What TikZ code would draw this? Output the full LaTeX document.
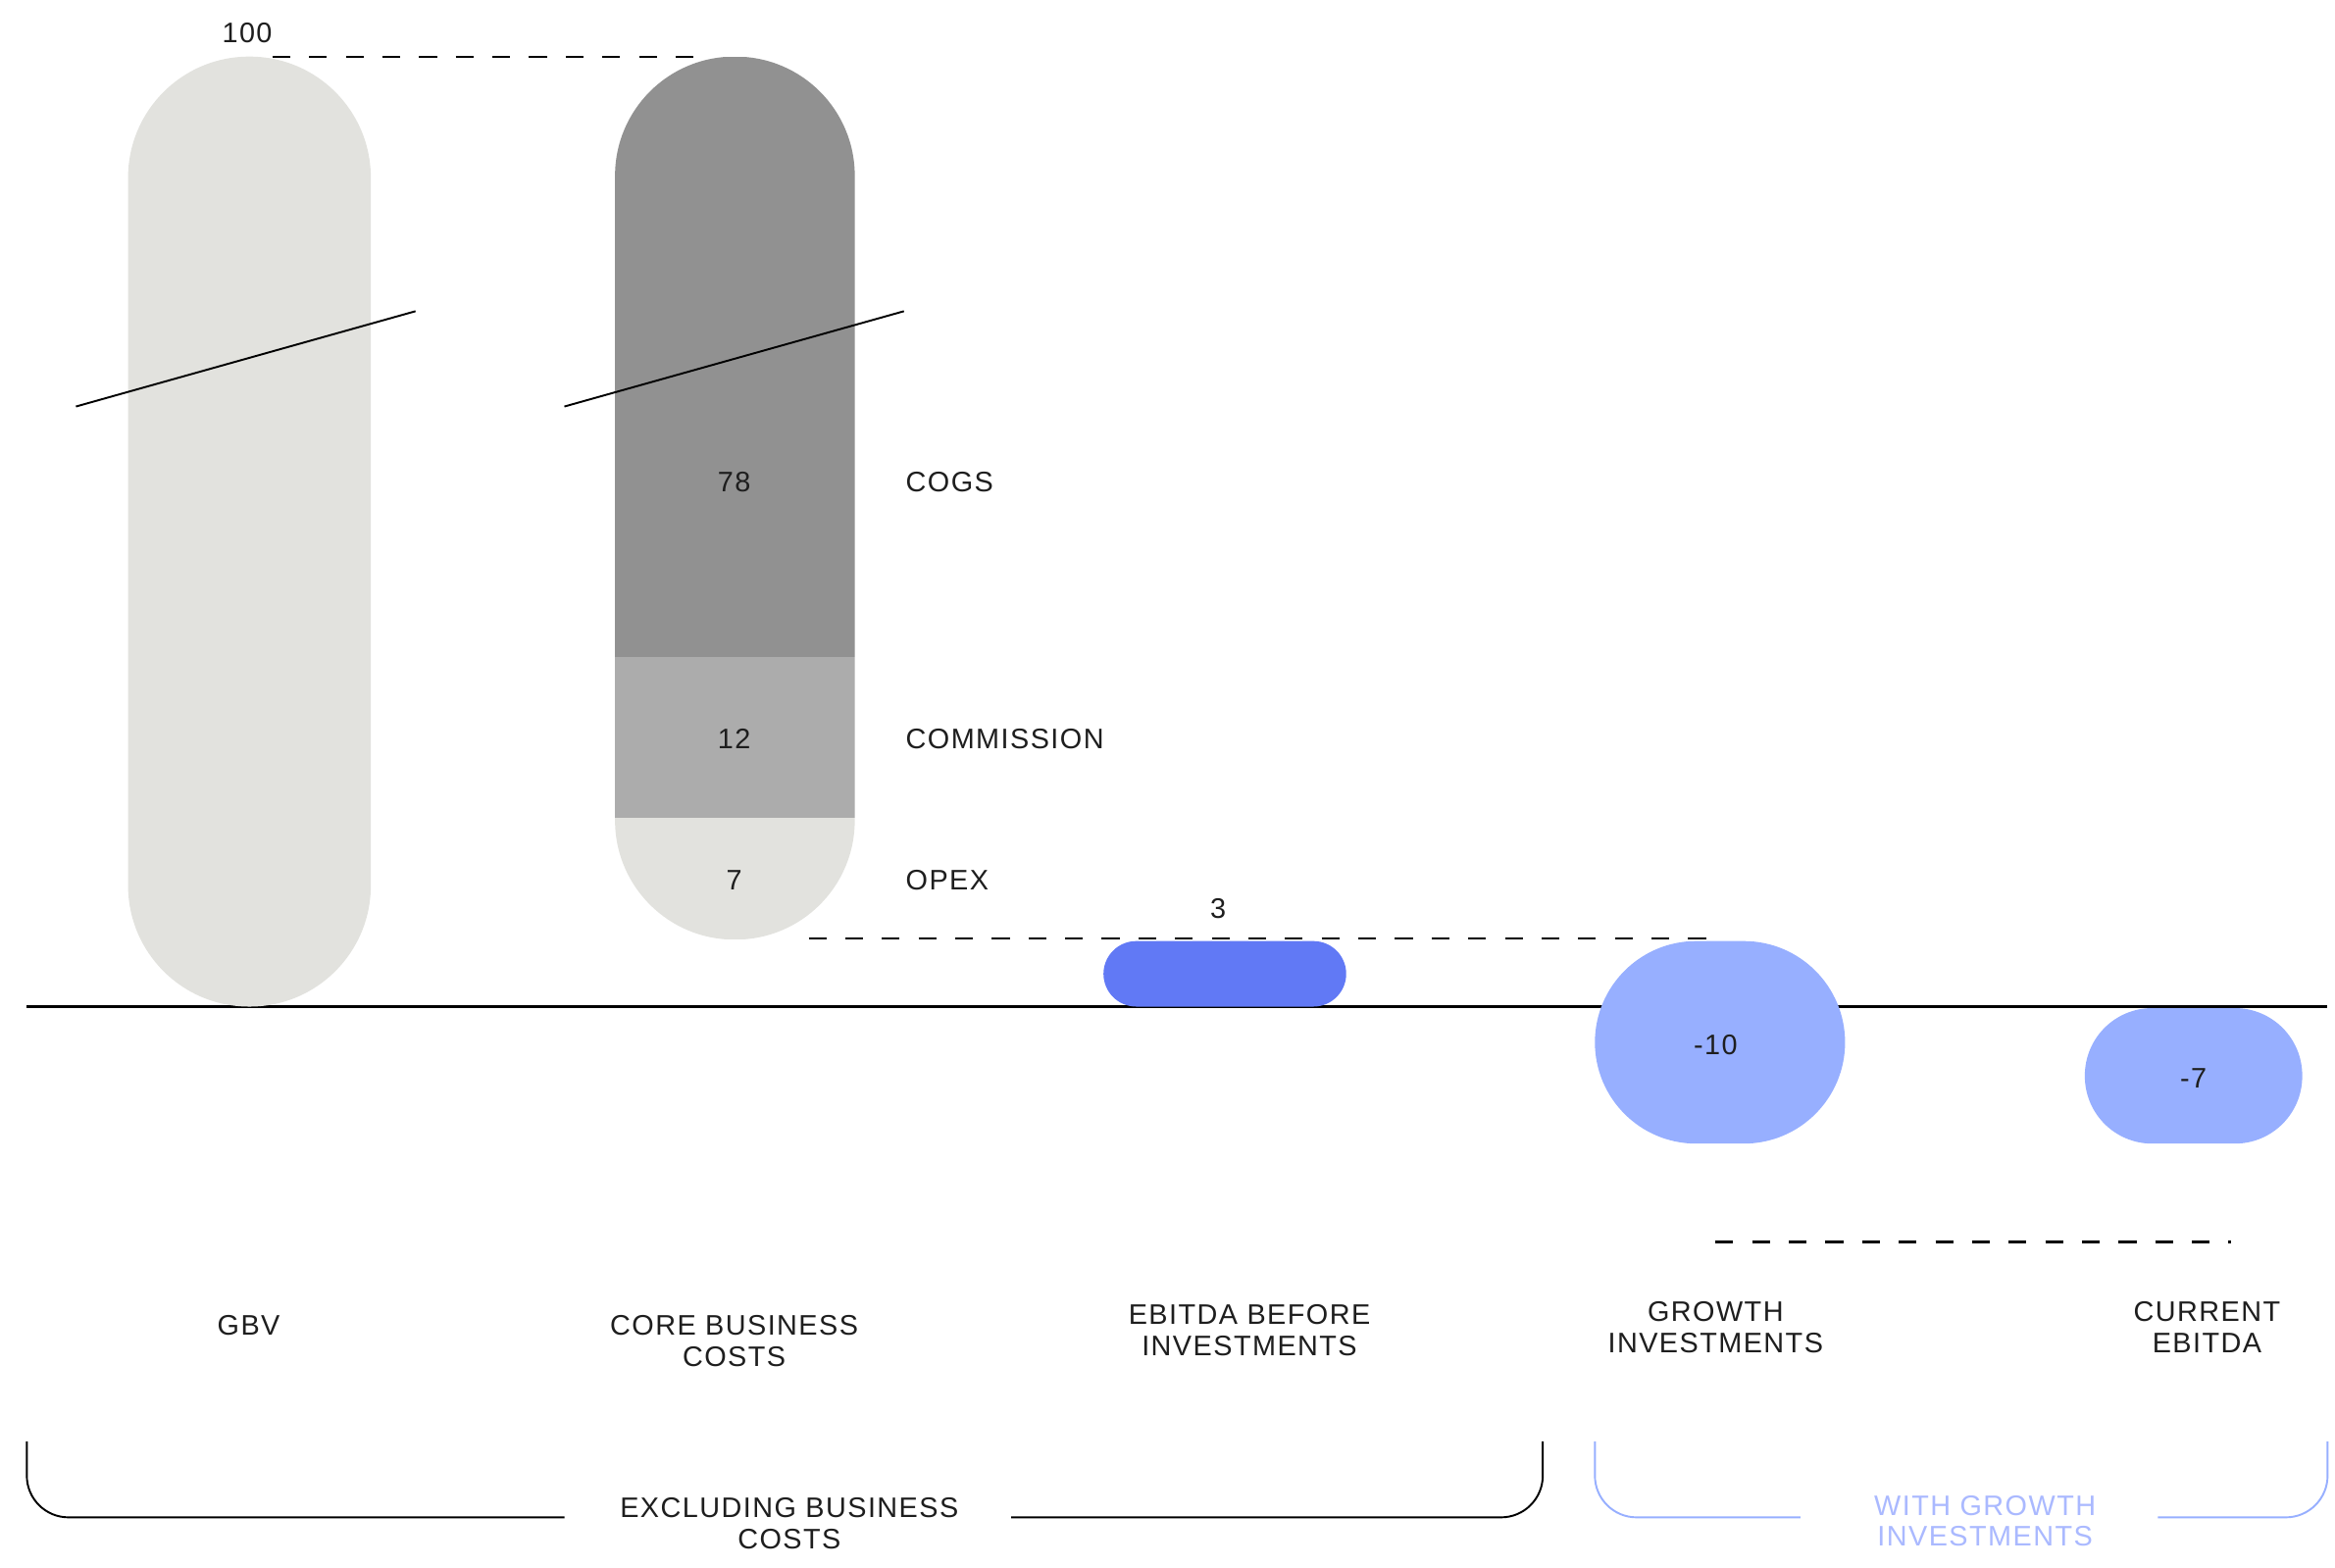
\documentclass[tikz,border=0pt]{standalone}
\usepackage{fontspec}
\setmainfont{Liberation Sans}[LetterSpace=5]
\definecolor{sand}{HTML}{E2E2DE}
\definecolor{cogsgray}{HTML}{919191}
\definecolor{commgray}{HTML}{ACACAC}
\definecolor{ebitblue}{HTML}{6179F5}
\definecolor{growblue}{HTML}{97AFFF}
\definecolor{labelblue}{HTML}{AAB9FF}
\definecolor{ink}{HTML}{1E1E1E}
\begin{document}
\begin{tikzpicture}[x=0.025cm,y=-0.025cm,
    lbl/.style={font=\fontsize{13.5}{14.9}\selectfont,text=ink,align=center,inner sep=0pt},
    guide/.style={dash pattern=on 8.5pt off 9pt,line width=1pt},
    brace/.style={line width=0.9pt,rounded corners=0.7cm}]
\useasboundingbox (0,0) rectangle (1568,1053);
% \draw (0,0) rectangle (1568,1053) ;
    \draw[line width=1.25pt] (18,676) -- (1563,676);
    % bars
    \fill[sand,rounded corners=2.03cm] (86,38) rectangle (249,676);
    \begin{scope}
    \clip[rounded corners=2cm] (413,38) rectangle (574,631);
    \fill[cogsgray] (413,38) rectangle (574,441);
    \fill[commgray] (413,441) rectangle (574,549);
    \fill[sand] (413,549) rectangle (574,631);
    \end{scope}
    \fill[ebitblue,rounded corners=0.55cm] (741,632) rectangle (904,676);
    \fill[growblue,rounded corners=1.7cm] (1071,632) rectangle (1239,768);
    \fill[growblue,rounded corners=1.13cm] (1400,677) rectangle (1546,768);
    % axis breaks
    \foreach \xs in {0,328}{\draw[line width=0.9pt] (51+\xs,273) -- (279+\xs,209);}
    % guides
    \coordinate (gbvtop) at (183,38);
    \coordinate (coretop) at (478,38);
    \coordinate (opexlow) at (543,630);
    \coordinate (growtop) at (1155,630);
    \coordinate (growlow) at (1152,834);
    \coordinate (currlow) at (1498,834);
    \draw[guide] (gbvtop) -- (coretop);
    \draw[guide] (opexlow) -- (growtop);
    \draw[guide] (growlow) -- (currlow);
    % values
    \node[lbl] (v100) at (166,22) {100};
    \node[lbl] (v78) at (493,324) {78};
    \node[lbl] (v12) at (493,496) {12};
    \node[lbl] (v7) at (493,591) {7};
    \node[lbl] (v3) at (818,610) {3};
    \node[lbl] (vm10) at (1152,702) {-10};
    \node[lbl] (vm7) at (1473,724) {-7};
    \node[lbl,anchor=west] (cogs) at (608,324) {COGS};
    \node[lbl,anchor=west] (comm) at (608,496) {COMMISSION};
    \node[lbl,anchor=west] (opex) at (608,591) {OPEX};
    % columns
    \node[lbl] (gbv) at (167,890) {GBV};
    \node[lbl] (core) at (493,900.5) {CORE BUSINESS\\COSTS};
    \node[lbl] (ebitda) at (839,893.5) {EBITDA BEFORE\\INVESTMENTS};
    \node[lbl] (growth) at (1152,891.5) {GROWTH\\INVESTMENTS};
    \node[lbl] (current) at (1482,891.5) {CURRENT\\EBITDA};
    % groups
    \node[lbl] (excl) at (530,1023) {EXCLUDING BUSINESS\\COSTS};
    \node[lbl,text=labelblue] (withgr) at (1333,1021.5) {WITH GROWTH\\INVESTMENTS};
    \draw[brace] (379,1019) -- (18,1019) -- (18,968);
    \draw[brace] (679,1019) -- (1036,1019) -- (1036,968);
    \draw[brace,growblue] (1209,1019) -- (1071,1019) -- (1071,968);
    \draw[brace,growblue] (1449,1019) -- (1563,1019) -- (1563,968);
\end{tikzpicture}
\end{document}
